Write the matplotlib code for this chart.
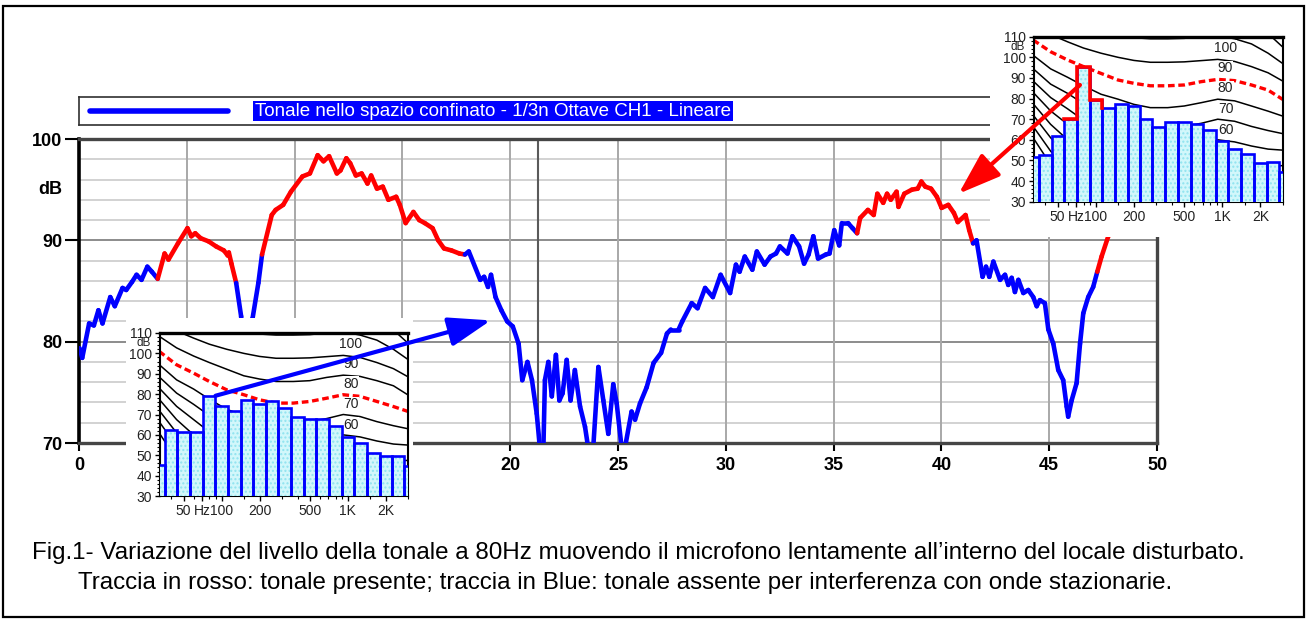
import matplotlib
matplotlib.use("Agg")
import matplotlib.pyplot as plt
import numpy as np
from matplotlib import font_manager
from matplotlib.collections import LineCollection
from matplotlib.patches import ConnectionPatch, Rectangle
from matplotlib.ticker import NullFormatter

W, H = 1307, 619

# ---- main trace: position (m) vs level (dB) ----
pos = [0.03, 0.15, 0.47, 0.69, 0.9, 1.09, 1.45, 1.66, 2.02, 2.19, 2.46, 2.67, 2.9, 3.17, 3.38, 3.65,
       3.97, 4.15, 4.59, 5.03, 5.21, 5.39, 5.65, 6.01, 6.36, 6.72, 6.9, 6.95, 7.07, 7.29,
       7.52, 7.65, 7.8, 7.95, 8.05, 8.32, 8.49,
       8.94, 9.12, 9.47, 9.83, 10.36, 10.71, 11.07, 11.34, 11.6, 11.96, 12.13, 12.4, 12.58, 12.84,
       13.11, 13.38, 13.55, 13.82, 14.09, 14.35, 14.71, 14.88, 15.15, 15.51, 15.78, 16.04, 16.4,
       16.66, 16.93, 17.28, 17.64, 17.9,
       18.08, 18.61, 18.79, 18.97, 19.11, 19.32, 19.59, 19.86, 20.12, 20.39, 20.56, 20.8, 21.01,
       21.23, 21.38, 21.54, 21.61, 21.77, 21.93, 22.12, 22.28, 22.43, 22.62, 22.8, 23.0, 23.24,
       23.47, 23.62, 23.85, 24.09, 24.32, 24.55, 24.78, 24.94, 25.17, 25.32, 25.63, 25.79, 26.02,
       26.33, 26.65, 27.0, 27.27, 27.45, 27.81, 27.98, 28.42, 28.69, 29.04, 29.4, 29.76, 30.2,
       30.47, 30.64, 30.88, 31.23, 31.44, 31.8, 32.07, 32.33, 32.51, 32.86, 33.09, 33.4, 33.63,
       33.84, 34.06, 34.28, 34.64, 34.81, 35.03, 35.26, 35.38, 35.67, 35.88, 36.09,
       36.23, 36.59, 36.86, 37.03, 37.3, 37.48, 37.65, 37.92, 38.01, 38.28, 38.63, 38.9, 39.07,
       39.25, 39.52, 39.79, 40.01, 40.32, 40.58, 40.76, 41.12, 41.29, 41.47,
       41.63, 41.91, 42.07, 42.22, 42.41, 42.72, 42.95, 43.1, 43.26, 43.41, 43.57, 43.8, 44.03,
       44.26, 44.42, 44.57, 44.8, 44.96, 45.19, 45.42, 45.65, 45.81, 45.88, 46.04, 46.27, 46.43,
       46.58, 46.81, 47.04, 47.23,
       47.43, 47.74, 48.1, 48.5]
level = [79.35, 78.4, 81.8, 81.6, 83.1, 81.8, 84.4, 83.5, 85.3, 85.1, 85.9, 86.6, 86.1, 87.4, 86.9, 86.2,
         88.7, 88.1, 89.7, 91.2, 90.4, 90.7, 90.2, 89.9, 89.4, 89.0, 88.5, 88.8, 87.7, 85.8,
         82.5, 78.0, 74.0, 78.0, 82.3, 85.8, 88.6,
         92.5, 93.0, 93.5, 94.8, 96.3, 96.6, 98.4, 97.8, 98.3, 96.6, 96.9, 98.1, 97.6, 96.4,
         96.6, 95.6, 96.4, 95.1, 95.3, 94.0, 94.3, 93.5, 91.7, 92.8, 92.0, 91.7, 91.2,
         90.0, 89.2, 89.0, 88.7, 88.6,
         88.9, 86.1, 86.4, 85.4, 86.6, 84.4, 83.1, 82.0, 81.5, 79.8, 76.2, 78.0, 76.2,
         72.9, 69.5, 69.5, 76.2, 78.0, 74.6, 78.7, 74.2, 74.9, 78.2, 74.2, 77.2, 73.6,
         71.6, 69.5, 69.5, 77.5, 74.2, 70.9, 75.8, 73.9, 69.5, 69.5, 73.1, 72.3, 73.9,
         75.5, 77.9, 78.9, 80.8, 81.2, 81.2, 82.0, 83.8, 83.3, 85.3, 84.4, 86.6, 84.8,
         87.6, 86.9, 88.4, 87.1, 88.9, 87.6, 88.4, 88.7, 89.4, 88.7, 90.4, 89.4, 87.7,
         88.6, 90.4, 88.2, 88.6, 88.7, 91.0, 89.5, 91.7, 91.7, 91.2, 90.7,
         92.2, 93.0, 92.5, 94.6, 93.7, 94.6, 94.0, 94.8, 93.3, 94.6, 95.0, 95.1, 95.8,
         95.3, 95.1, 94.3, 93.2, 93.5, 92.7, 91.8, 92.5, 91.0, 89.7,
         90.0, 86.4, 87.4, 86.4, 87.9, 86.1, 86.6, 85.6, 86.3, 84.9, 86.1, 84.8, 85.1,
         84.4, 83.5, 84.1, 83.8, 81.2, 79.8, 77.2, 76.2, 73.6, 72.6, 74.2, 75.9, 79.8,
         82.8, 84.4, 85.4, 86.9,
         88.4, 90.4, 93.0, 96.0]
# stretches where the 80 Hz tone is present (red)
red_spans = [(3.65, 7.29), (8.49, 17.9), (36.09, 41.47), (47.23, 48.5)]
cursor_x = 21.3

legend_label = "Tonale nello spazio confinato - 1/3n Ottave CH1 - Lineare"
caption_1 = ("Fig.1- Variazione del livello della tonale a 80Hz muovendo il microfono "
             "lentamente all\u2019interno del locale disturbato.")
caption_2 = ("Traccia in rosso: tonale presente; traccia in Blue: tonale assente per "
             "interferenza con onde stazionarie.")

# ---- inset spectra: 1/3 octave bands ----
band_hz = [31.5, 40, 50, 63, 80, 100, 125, 160, 200, 250, 315, 400, 500, 630, 800,
           1000, 1250, 1600, 2000, 2500, 3150]
spec_absent = [45, 62.5, 61.3, 61.3, 79.2, 74.4, 71.8, 76.9, 75.1, 76.4, 73.4, 69.0, 67.7,
               67.7, 64.6, 59.2, 55.9, 51.0, 49.8, 49.4, 44.9]
spec_present = [51.8, 52.6, 61.8, 69.9, 95.5, 79.3, 75.3, 77.4, 76.4, 69.9, 66.0, 68.6, 68.6,
                67.5, 64.8, 59.4, 55.5, 53.1, 48.9, 49.4, 44.6]

# equal loudness curves drawn behind the bars (dB at contour_hz)
contour_hz = [32, 44, 60, 80, 110, 150, 200, 270, 370, 500, 680, 920, 1250, 1700, 2300, 3000]
contours = {
    120: [140, 134, 130, 127, 124, 122, 120.5, 119.5, 119.5, 120, 121, 122, 121, 117, 111.5, 105],
    110: [126, 121, 117, 114, 112, 110.5, 109.5, 109, 109, 109.2, 110, 110.5, 109, 106.5, 102, 97],
    100: [116, 111, 107.5, 104.5, 102, 100, 98.5, 97.6, 97.6, 97.8, 98.4, 99, 98, 95.5, 92.5, 88.5],
    90: [108.4, 102.7, 98.7, 95.5, 92.2, 89, 87.4, 86.2, 86.2, 86.6, 88.2, 89.3, 88.7, 86.6, 84.1, 79.6],
    80: [101, 94.4, 90.3, 86.2, 82.1, 79.7, 77.2, 75.6, 75.6, 76.4, 78, 79.7, 78.9, 76.4, 73.9, 71.5],
    70: [94.5, 87, 82.5, 77.5, 72.5, 69.5, 67, 65.5, 65.5, 66.5, 68, 70, 69, 66.5, 64.5, 63],
    60: [88.5, 80.5, 75, 69.5, 64, 60.5, 57.5, 55.5, 55.5, 56.5, 58, 60, 59, 57, 55.5, 55],
    50: [83, 74, 67.5, 61.5, 55.5, 51.5, 48, 46, 45.5, 46.5, 48, 50, 49, 47.5, 47, 47.5],
    40: [77.5, 67.5, 60, 53.5, 47, 42.5, 38.5, 36, 35.5, 36.5, 38, 40, 39, 37.5, 37, 38],
    30: [72, 61, 52.5, 45.5, 38.5, 33.5, 29, 26.5, 25.5, 26.5, 28, 30, 29, 27.5, 27, 28],
    20: [66.5, 54.5, 45, 37.5, 30, 24.5, 20, 17, 16, 16.5, 18, 20, 19, 17.5, 17, 18],
    10: [61, 48, 37.5, 29.5, 21.5, 15.5, 11, 8, 6.5, 6.5, 8, 10, 9, 7.5, 7, 8],
}
contour_tags = [100, 90, 80, 70, 60]
contour_tag_db = [104.7, 94.7, 85.2, 75.0, 65.0]
contour_tag_hz = 1060

inset_ticks = [50, 70, 100, 200, 500, 1000, 2000]
inset_ticklabels = ["50", "Hz", "100", "200", "500", "1K", "2K"]
inset_minor = [40, 60, 80, 90, 150, 300, 400, 600, 700, 800, 900, 1500, 3000]

plt.rcParams["font.family"] = ["Liberation Sans", "DejaVu Sans"]
try:
    font_manager.findfont("Liberation Sans Narrow", fallback_to_default=False)
    NARROW, NSIZE = "Liberation Sans Narrow", 11.5
except ValueError:
    NARROW, NSIZE = "Liberation Sans", 10


def box(x0, y0, x1, y1):
    return [x0 / W, 1 - y1 / H, (x1 - x0) / W, (y1 - y0) / H]


fig = plt.figure(figsize=(W / 100, H / 100), dpi=100)

frame = fig.add_axes([0, 0, 1, 1])
frame.set_axis_off()
frame.set_xlim(0, W)
frame.set_ylim(H, 0)
frame.add_patch(Rectangle((3, 6), W - 6, H - 8, fill=False, lw=1.6, ec="black"))

# ---- main chart ----
ax = fig.add_axes(box(79, 139, 1157, 443))
ax.set_xlim(0, 50)
ax.set_ylim(70, 100)
for v in range(72, 100, 2):
    ax.axhline(v, color="#8c8c8c" if v % 10 == 0 else "#d2d2d2", lw=1.4, zorder=1)
for v in range(5, 50, 5):
    ax.axvline(v, color="#a8a8a8", lw=1.4, zorder=1)
ax.axvline(cursor_x, color="#5a5a5a", lw=1.5, zorder=1)

x = np.array(pos)
y = np.array(level)
pts = np.column_stack([x, y])
segs = np.stack([pts[:-1], pts[1:]], axis=1)
mid = (x[:-1] + x[1:]) / 2
red = np.zeros(len(mid), bool)
for a, b in red_spans:
    red |= (mid > a) & (mid < b)
cols = ["#ff0000" if r else "#0000ff" for r in red]
ax.add_collection(LineCollection(segs, colors=cols, linewidths=3.3,
                                 capstyle="round", joinstyle="round", zorder=3))

ax.set_xticks(range(0, 51, 5))
ax.set_yticks([70, 80, 90, 100])
ax.tick_params(axis="y", direction="out", length=10, width=1.5, pad=2, labelsize=13)
ax.tick_params(axis="x", direction="out", length=6, width=1.5, pad=4, labelsize=13)
for lab in ax.get_xticklabels() + ax.get_yticklabels():
    lab.set_fontweight("bold")
ax.text(-0.016, 95.0, "dB", transform=ax.get_yaxis_transform(), ha="right", va="center",
        fontsize=13, fontweight="bold")
ax.spines["left"].set_color("black")
ax.spines["left"].set_linewidth(2.6)
for s in ("top", "right", "bottom"):
    ax.spines[s].set_color("#454545")
    ax.spines[s].set_linewidth(2.4)

# legend strip
lg = fig.add_axes(box(79, 97, 1157, 125))
lg.set_xlim(0, 1078)
lg.set_ylim(0, 1)
lg.set_xticks([])
lg.set_yticks([])
for s in lg.spines.values():
    s.set_color("#303030")
    s.set_linewidth(1.2)
lg.plot([11, 149], [0.5, 0.5], color="#0000ff", lw=4, solid_capstyle="round")
lg.text(176, 0.5, legend_label, color="white", fontsize=13.5, ha="left", va="center",
        bbox=dict(boxstyle="square,pad=0.1", fc="#0000ff", ec="none"))

# white patches under the two insets
for r in (box(126, 318, 413, 530), box(990, 10, 1299, 237)):
    c = fig.add_axes(r, facecolor="white")
    c.set_xticks([])
    c.set_yticks([])
    for s in c.spines.values():
        s.set_visible(False)

# band edges (geometric midpoints between band centres)
bf = np.array(band_hz, float)
inner = np.sqrt(bf[:-1] * bf[1:])
lo = np.concatenate([[bf[0] ** 2 / inner[0]], inner])
hi = np.concatenate([inner, [bf[-1] ** 2 / inner[-1]]])


def draw_inset(rect, spec, red_phon):
    ia = fig.add_axes(rect)
    ia.set_xscale("log")
    ia.set_xlim(32.5, 3000)
    ia.set_ylim(30, 110)
    for phon, vals in contours.items():
        if phon == red_phon:
            ia.plot(contour_hz, vals, color="#ff0000", lw=2.4, ls=(0, (2, 1.1)), zorder=2)
        else:
            ia.plot(contour_hz, vals, color="black", lw=1.1, zorder=2)
    for t, v in zip(contour_tags, contour_tag_db):
        ia.text(contour_tag_hz, v, str(t), family=NARROW, fontsize=NSIZE, color="#222222",
                ha="center", va="center", zorder=2.5,
                bbox=dict(fc="white", ec="none", pad=0.2))
    ia.bar(lo, spec, width=hi - lo, align="edge", color="#d2f7fb", lw=0, zorder=3)
    ia.bar(lo, spec, width=hi - lo, align="edge", facecolor="none", edgecolor="#8fe3ef",
           lw=0, hatch="....", zorder=3.1)
    ia.bar(lo, spec, width=hi - lo, align="edge", facecolor="none", edgecolor="#0000ff",
           lw=1.9, zorder=3.2)
    ia.set_yticks(range(30, 111, 10))
    ia.set_yticks(range(30, 111, 2), minor=True)
    ia.set_xticks(inset_ticks, inset_ticklabels)
    ia.set_xticks(inset_minor, minor=True)
    ia.xaxis.set_minor_formatter(NullFormatter())
    ia.tick_params(which="major", direction="out", length=3.5, width=1, pad=2.5,
                   labelsize=NSIZE, labelcolor="#222222")
    ia.tick_params(which="minor", direction="out", length=2, width=0.8)
    for lab in ia.get_xticklabels() + ia.get_yticklabels():
        lab.set_family(NARROW)
    ia.text(-0.035, 104.9, "dB", transform=ia.get_yaxis_transform(), ha="right", va="center",
            family=NARROW, fontsize=NSIZE - 1.5, color="#222222")
    for s in ia.spines.values():
        s.set_color("black")
        s.set_linewidth(1.5)
    ia.spines["top"].set_linewidth(2.4)
    return ia


in1 = draw_inset(box(160, 333, 408, 496), spec_absent, 80)
in2 = draw_inset(box(1034, 36.7, 1282.7, 201.7), spec_present, 90)

# red outline of the tonal band in the second inset
k = band_hz.index(80)
step_x = [lo[k - 1], lo[k], lo[k], hi[k], hi[k], hi[k + 1], hi[k + 1]]
step_y = [spec_present[k - 1], spec_present[k - 1], spec_present[k], spec_present[k],
          spec_present[k + 1], spec_present[k + 1], spec_present[k + 2]]
in2.plot(step_x, step_y, color="#ff0000", lw=2.6, solid_joinstyle="miter", zorder=4)

# arrows from the insets to the trace
blue_from = (hi[k], spec_absent[k])
blue_to = (19.1, 82.1)
red_from = (75, 86.6)
red_to = (40.8, 94.6)
for (pa, axa, pb, col) in ((blue_from, in1, blue_to, "#0000ff"), (red_from, in2, red_to, "#ff0000")):
    arr = ConnectionPatch(xyA=pa, coordsA=axa.transData, xyB=pb, coordsB=ax.transData,
                          arrowstyle="-|>,head_length=1.3,head_width=0.45", mutation_scale=20,
                          color=col, lw=3, zorder=5)
    fig.add_artist(arr)

fig.text(638 / W, 1 - 553 / H, caption_1, ha="center", va="center", fontsize=17.4)
fig.text(625 / W, 1 - 583 / H, caption_2, ha="center", va="center", fontsize=17.4)

fig.savefig("out.png", dpi=100)
